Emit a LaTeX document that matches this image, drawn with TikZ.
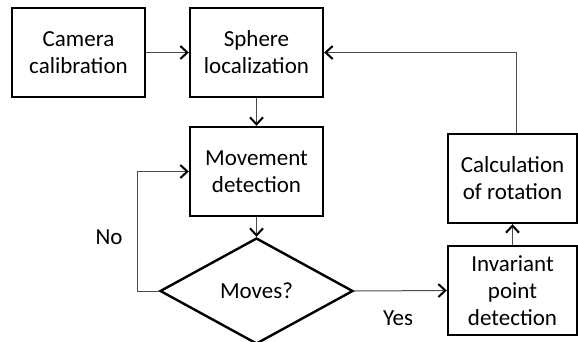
\documentclass[tikz,border=0pt]{standalone}
\usepackage{fontspec}
\setmainfont{Carlito}
\usepackage{tikz}
\usetikzlibrary{arrows.meta}
\usetikzlibrary{shapes.geometric}

\tikzset{
  stepbox/.style={draw,line width=2.4pt,align=center,inner sep=0pt,
    minimum width=133pt,minimum height=89pt},
  testbox/.style={draw,diamond,line width=2.4pt,inner sep=0pt,
    minimum width=193pt,minimum height=106pt},
  flow/.style={line width=1pt,draw=black!70,
    -{Straight Barb[length=7pt,width=13pt,line width=2pt,color=black]}},
}

\begin{document}
\begin{tikzpicture}[x=1pt,y=-1pt,font=\fontsize{23}{27}\selectfont]
        \useasboundingbox (0,0) rectangle (578,341);

        %------------------
        % 枠
        %------------------
        \node[stepbox] (camera) at (78.5,52.5) {Camera\\calibration};
        \node[stepbox] (sphere) at (256.5,52.5) {Sphere\\localization};
        \node[stepbox] (movement) at (256.5,171.5) {Movement\\detection};
        \node[testbox] (moves) at (256.5,291) {Moves?};
        \node[stepbox,minimum width=129pt] (rotation) at (512.5,178.5) {Calculation\\of rotation};
        \node[stepbox,minimum width=129pt] (invariant) at (512.5,290.5) {Invariant\\point\\detection};

        %------------------
        % 矢印
        %------------------
        \coordinate (noturn) at (137,0);
        \coordinate (back) at (516,0);
        \draw[flow] (camera) -- (sphere);
        \draw[flow] (sphere) -- (movement);
        \draw[flow] (movement) -- (moves);
        \draw[flow] (moves.west) -- (moves.west -| noturn) -- (movement.west -| noturn) -- (movement.west);
        \draw[flow] (moves.east) -- (invariant.west);
        \draw[flow] (invariant) -- (rotation);
        \draw[flow] (rotation.north -| back) -- (sphere.east -| back) -- (sphere.east);

        % ラベル
        \node (no) at (109,237) {No};
        \node (yes) at (398,318) {Yes};
      \end{tikzpicture}
\end{document}
